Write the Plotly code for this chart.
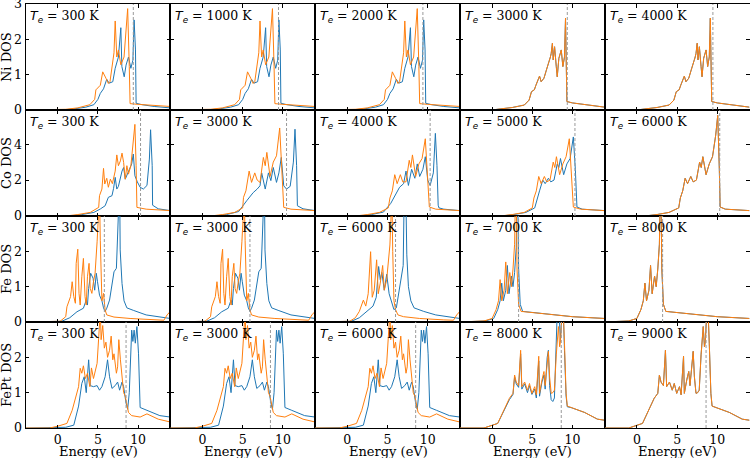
import plotly.graph_objects as go

# ---------------- data (energies in eV, DOS values) ----------------
ROWS = ["Ni", "Co", "Fe", "FePt"]
TEMPS = {
    "Ni": [300, 1000, 2000, 3000, 4000],
    "Co": [300, 3000, 4000, 5000, 6000],
    "Fe": [300, 3000, 6000, 7000, 8000],
    "FePt": [300, 3000, 6000, 8000, 9000],
}
FERMI = {
    "Ni": [9.4, 9.45, 9.4, 9.35, 9.45],
    "Co": [10.3, 10.45, 10.3, 10.3, 10.3],
    "Fe": [5.8, 5.9, 6.0, 3.3, 3.2],
    "FePt": [8.5, 8.45, 8.5, 8.6, 8.6],
}
YRANGE = {"Ni": [0, 3.0005], "Co": [0, 5.9], "Fe": [0, 3], "FePt": [0, 3]}
YTICKS = {"Ni": [0, 1, 2, 3], "Co": [0, 2, 4], "Fe": [0, 1, 2], "FePt": [0, 1, 2]}
XTICKS = [0, 5, 10]

# Ni, low temperature (spin up = orange, spin down = blue)
NI_LOW_UP_E = [-4, 0.0, 1.0, 2.5, 4.0, 4.6, 4.75, 5.3, 5.6, 6.0, 6.3, 6.5, 6.85, 7.0, 7.15, 7.35, 7.55, 7.85, 8.25, 8.6, 8.7, 8.9, 9.0, 10, 12, 14]
NI_LOW_UP_D = [0, 0.0, 0.02, 0.06, 0.15, 0.3, 0.57, 0.7, 1.08, 0.9, 0.75, 0.8, 1.33, 1.62, 2.52, 1.5, 1.7, 1.28, 1.5, 2.53, 2.87, 1.23, 0.18, 0.16, 0.12, 0.1]
NI_LOW_DN_E = [-4, 0.5, 2.0, 3.5, 4.5, 5.0, 5.3, 5.7, 6.1, 6.4, 6.85, 7.15, 7.55, 7.85, 7.98, 8.27, 8.5, 8.8, 9.1, 9.35, 9.5, 9.67, 9.75, 10.5, 12, 14]
NI_LOW_DN_D = [0, 0.0, 0.03, 0.08, 0.15, 0.3, 0.47, 0.6, 0.87, 0.76, 0.8, 1.18, 1.5, 2.33, 1.23, 0.94, 1.27, 1.5, 1.18, 1.41, 2.55, 1.7, 0.19, 0.15, 0.1, 0.06]
# Ni, high temperature (both spins equal)
NI_HIGH_E = [-4, 0.0, 1.0, 2.5, 4.0, 4.6, 4.9, 5.25, 5.45, 5.9, 6.1, 6.45, 6.75, 7.05, 7.25, 7.35, 7.5, 7.6, 7.77, 7.98, 8.1, 8.3, 8.6, 8.8, 9.0, 9.13, 9.25, 9.3, 10, 12, 14]
NI_HIGH_D = [0, 0, 0.03, 0.07, 0.14, 0.28, 0.52, 0.57, 0.7, 0.96, 0.8, 0.9, 1.13, 1.33, 1.5, 1.6, 1.89, 1.42, 1.79, 1.23, 0.94, 1.46, 1.7, 1.23, 1.5, 2.6, 1.2, 0.24, 0.2, 0.13, 0.08]

# Co
CO_300_UP_E = [-4, 1.0, 2.5, 4.05, 5.1, 5.2, 5.5, 5.7, 5.85, 6.1, 6.3, 6.55, 6.8, 7.15, 7.35, 7.55, 7.8, 8.0, 8.2, 8.4, 8.6, 8.8, 9.1, 9.4, 9.6, 9.75, 9.85, 11, 14]
CO_300_UP_D = [0, 0.0, 0.08, 0.2, 0.48, 1.13, 1.5, 2.65, 1.78, 2.1, 1.6, 2.05, 1.8, 2.5, 3.4, 2.8, 3.07, 3.5, 2.98, 2.05, 2.8, 2.33, 2.8, 4.28, 5.1, 2.8, 0.48, 0.38, 0.3]
CO_300_DN_E = [-4, 1.5, 3.0, 4.5, 5.3, 5.9, 6.3, 6.75, 6.95, 7.15, 7.35, 7.55, 8.0, 8.2, 8.4, 8.8, 9.2, 9.4, 9.6, 9.9, 10.25, 10.65, 11.1, 11.4, 11.55, 11.75, 11.8, 12.5, 14]
CO_300_DN_D = [0, 0.0, 0.08, 0.2, 0.39, 0.57, 1.04, 1.13, 1.54, 2.15, 1.5, 1.65, 2.5, 2.7, 2.05, 2.5, 2.9, 3.45, 2.24, 1.9, 1.6, 1.5, 1.7, 3.17, 4.8, 2.8, 0.6, 0.4, 0.3]
CO_3000_UP_E = [-4, 1.0, 2.5, 4.0, 5.0, 5.1, 5.4, 5.8, 6.1, 6.5, 6.8, 7.15, 7.57, 7.8, 8.0, 8.4, 8.8, 9.2, 9.6, 9.85, 10.1, 11, 14]
CO_3000_UP_D = [0, 0, 0.08, 0.2, 0.45, 1.04, 1.4, 2.5, 1.87, 2.4, 2.0, 1.87, 3.26, 2.8, 3.54, 2.2, 3.0, 3.35, 4.9, 2.8, 0.48, 0.38, 0.3]
CO_3000_DN_E = [-4, 1.5, 3.0, 4.5, 5.5, 6.3, 6.8, 7.15, 7.36, 7.8, 8.2, 8.5, 8.8, 9.2, 9.5, 9.8, 10.1, 10.45, 10.9, 11.3, 11.5, 11.7, 11.8, 12.5, 14]
CO_3000_DN_D = [0, 0, 0.08, 0.25, 0.85, 1.3, 1.5, 1.68, 2.4, 1.5, 2.4, 1.97, 2.7, 1.87, 2.4, 3.26, 1.68, 1.5, 1.65, 3.0, 4.83, 2.8, 0.57, 0.4, 0.3]
CO_4000_UP_E = [-4, 1, 2.5, 4, 5.1, 5.3, 5.6, 5.9, 6.2, 6.6, 6.9, 7.3, 7.7, 7.9, 8.1, 8.5, 8.9, 9.3, 9.7, 9.95, 10.2, 11, 14]
CO_4000_UP_D = [0, 0, 0.08, 0.2, 0.45, 1.0, 1.4, 2.3, 1.8, 2.3, 1.9, 1.9, 3.1, 2.7, 3.4, 2.2, 2.9, 3.2, 4.3, 2.6, 0.5, 0.38, 0.3]
CO_4000_DN_E = [-4, 1.5, 3, 4.5, 5.4, 6.0, 6.5, 7.0, 7.3, 7.6, 8.0, 8.4, 8.7, 9.0, 9.4, 9.7, 10.0, 10.3, 10.7, 10.95, 11.15, 11.3, 11.4, 12, 14]
CO_4000_DN_D = [0, 0, 0.08, 0.22, 0.7, 1.2, 1.6, 1.8, 2.5, 1.7, 2.6, 2.1, 2.9, 2.2, 2.6, 3.3, 2.0, 1.7, 2.4, 4.6, 2.8, 0.6, 0.45, 0.38, 0.3]
CO_5000_UP_E = [-4, 1, 2.5, 4, 5.0, 5.2, 5.5, 5.8, 6.1, 6.5, 6.8, 7.2, 7.6, 7.8, 8.0, 8.4, 8.8, 9.2, 9.6, 9.85, 10.1, 11, 14]
CO_5000_UP_D = [0, 0, 0.08, 0.2, 0.45, 1.0, 1.4, 2.2, 1.8, 2.2, 1.9, 2.0, 3.0, 2.7, 3.3, 2.3, 2.9, 3.3, 4.3, 2.6, 0.5, 0.38, 0.3]
CO_5000_DN_E = [-4, 1.2, 2.7, 4.2, 5.3, 5.6, 5.9, 6.3, 6.6, 7.0, 7.3, 7.7, 8.1, 8.3, 8.5, 8.9, 9.3, 9.7, 10.1, 10.35, 10.55, 11.2, 14]
CO_5000_DN_D = [0, 0, 0.08, 0.2, 0.45, 1.0, 1.4, 2.0, 1.8, 2.1, 1.9, 2.0, 2.9, 2.7, 3.2, 2.3, 2.9, 3.2, 4.4, 2.6, 0.5, 0.38, 0.3]
CO_HIGH_E = [-4, 1, 2.5, 4, 5.2, 5.4, 5.7, 6.0, 6.3, 6.7, 7.0, 7.4, 7.8, 8.0, 8.2, 8.6, 9.0, 9.4, 9.8, 10.05, 10.25, 10.35, 11, 14]
CO_HIGH_D = [0, 0, 0.08, 0.2, 0.45, 1.0, 1.4, 2.1, 1.8, 2.2, 1.9, 2.0, 3.0, 2.7, 3.3, 2.3, 2.9, 3.3, 4.5, 5.6, 2.6, 0.5, 0.38, 0.3]

# Fe
FE_LOW_UP_E = [-4, 0.3, 1.0, 1.15, 1.6, 1.8, 2.0, 2.2, 2.3, 2.5, 2.65, 2.8, 3.0, 3.2, 3.4, 3.55, 3.7, 3.9, 4.05, 4.25, 4.45, 4.65, 4.9, 5.0, 5.1, 5.2, 5.3, 5.4, 5.5, 5.7, 5.9, 6.1, 7, 9, 12, 13.2, 13.6, 14]
FE_LOW_UP_D = [0, 0.02, 0.15, 0.43, 0.72, 1.14, 0.72, 0.53, 1.66, 2.06, 0.81, 0.48, 1.28, 1.8, 0.72, 0.48, 1.28, 1.66, 0.95, 0.81, 1.14, 1.38, 2.27, 2.8, 3.6, 3.6, 2.3, 0.9, 0.6, 0.81, 0.34, 0.2, 0.14, 0.1, 0.06, 0.05, 0.2, 0.3]
FE_LOW_DN_E = [-4, 0.5, 1.5, 2.4, 3.2, 3.55, 3.7, 3.85, 4.1, 4.4, 4.6, 4.8, 4.95, 5.2, 5.5, 5.7, 5.9, 6.1, 6.45, 6.75, 7.0, 7.3, 7.45, 7.55, 7.7, 7.77, 8.0, 8.25, 8.6, 9.4, 11, 14]
FE_LOW_DN_D = [0, 0.02, 0.12, 0.29, 0.39, 0.62, 0.48, 0.95, 1.38, 1.24, 0.9, 1.38, 1.14, 0.76, 0.6, 0.4, 0.3, 0.39, 0.62, 1.09, 1.42, 1.52, 2.13, 4.0, 4.0, 2.04, 1.09, 0.6, 0.4, 0.33, 0.2, 0.1]
FE_6000_UP_E = [-4, 0.3, 1.0, 1.5, 2.0, 2.3, 2.6, 2.9, 3.1, 3.35, 3.65, 3.85, 4.1, 4.4, 4.6, 4.9, 5.3, 5.45, 5.55, 5.65, 5.8, 6.0, 6.3, 7, 9, 12, 13.2, 13.6, 14]
FE_6000_UP_D = [0, 0.02, 0.12, 0.3, 0.62, 0.45, 0.8, 1.99, 0.7, 0.9, 1.76, 0.8, 1.1, 1.6, 0.9, 1.2, 2.18, 3.6, 3.6, 2.0, 0.6, 0.35, 0.2, 0.15, 0.1, 0.06, 0.05, 0.2, 0.3]
FE_6000_DN_E = [-4, 0.5, 1.5, 2.5, 3.2, 3.6, 3.9, 4.1, 4.3, 4.6, 4.9, 5.2, 5.5, 5.8, 6.1, 6.4, 6.7, 6.95, 7.1, 7.25, 7.4, 7.6, 7.9, 8.3, 9.5, 11, 14]
FE_6000_DN_D = [0, 0.02, 0.12, 0.3, 0.45, 0.7, 1.57, 1.2, 1.4, 0.9, 1.35, 0.8, 0.55, 0.35, 0.4, 0.8, 1.3, 1.6, 4.0, 4.0, 1.9, 1.0, 0.6, 0.4, 0.3, 0.2, 0.1]
FE_7000_UP_E = [-4, -1.0, 0.0, 0.5, 0.8, 1.0, 1.2, 1.5, 1.7, 1.9, 2.2, 2.4, 2.6, 2.8, 2.9, 3.0, 3.1, 3.3, 3.6, 6, 10, 14]
FE_7000_UP_D = [0, 0.03, 0.1, 0.35, 0.6, 1.2, 0.6, 0.9, 1.7, 0.8, 1.4, 1.0, 1.5, 2.2, 3.6, 3.6, 1.5, 0.5, 0.3, 0.25, 0.15, 0.1]
FE_7000_DN_E = [-4, -0.8, 0.2, 0.7, 1.0, 1.2, 1.4, 1.7, 1.9, 2.1, 2.4, 2.6, 2.8, 3.0, 3.1, 3.2, 3.3, 3.5, 3.8, 6, 10, 14]
FE_7000_DN_D = [0, 0.03, 0.1, 0.35, 0.6, 1.1, 0.6, 0.9, 1.6, 0.8, 1.3, 1.0, 1.4, 2.1, 3.6, 3.6, 1.5, 0.5, 0.3, 0.25, 0.15, 0.1]
FE_8000_E = [-4, -1.0, 0.0, 0.5, 0.8, 1.0, 1.2, 1.5, 1.7, 1.9, 2.2, 2.4, 2.6, 2.8, 2.9, 3.0, 3.1, 3.3, 3.6, 6, 10, 14]
FE_8000_D = [0, 0.03, 0.1, 0.35, 0.6, 1.1, 0.6, 0.9, 1.6, 0.8, 1.3, 1.0, 1.5, 2.2, 3.6, 3.6, 1.5, 0.5, 0.3, 0.25, 0.15, 0.1]

# FePt
FEPT_LOW_UP_E = [-4, -1.0, 0.0, 1.15, 1.8, 2.2, 2.6, 2.8, 3.0, 3.2, 3.45, 3.7, 4.0, 4.2, 4.45, 4.9, 5.1, 5.3, 5.4, 5.6, 5.8, 6.0, 6.2, 6.45, 6.65, 6.85, 7.0, 7.3, 7.45, 7.6, 7.8, 8.0, 8.2, 8.4, 8.6, 8.8, 9.2, 10.25, 11.1, 12.5, 14]
FEPT_LOW_UP_D = [0, 0.0, 0.05, 0.13, 0.5, 0.84, 1.17, 1.69, 1.55, 1.76, 1.4, 1.55, 1.17, 1.7, 1.4, 1.83, 2.68, 3.3, 2.5, 2.9, 2.26, 2.43, 2.0, 2.2, 2.6, 1.93, 2.1, 1.55, 1.73, 2.5, 1.93, 1.36, 1.0, 0.9, 0.62, 0.44, 0.35, 0.31, 0.4, 0.25, 0.17]
FEPT_LOW_DN_E = [-4, 0.0, 1.0, 2.0, 2.6, 3.0, 3.3, 3.55, 3.85, 4.05, 4.45, 4.9, 5.2, 5.5, 5.9, 6.2, 6.45, 6.75, 7.15, 7.45, 7.7, 8.0, 8.2, 8.5, 8.7, 8.9, 9.1, 9.2, 9.35, 9.5, 9.65, 9.85, 10.05, 10.15, 10.25, 11.1, 12.7, 14]
FEPT_LOW_DN_D = [0, 0.0, 0.02, 0.08, 0.62, 1.26, 1.45, 1.0, 1.93, 1.2, 1.17, 1.2, 1.07, 1.17, 1.45, 1.93, 1.45, 1.12, 1.2, 1.3, 1.07, 1.3, 1.17, 0.7, 0.53, 1.0, 2.12, 2.77, 2.45, 2.77, 2.4, 2.87, 2.1, 0.9, 0.58, 0.5, 0.35, 0.31]
FEPT_HIGH_E = [-4, -1.0, 0.7, 2.15, 2.6, 2.8, 3.0, 3.3, 3.55, 3.7, 4.05, 4.4, 4.65, 4.95, 5.3, 5.5, 5.8, 5.9, 6.2, 6.45, 6.6, 6.85, 7.0, 7.15, 7.35, 7.55, 7.75, 7.98, 8.1, 8.25, 8.4, 8.5, 8.7, 8.85, 9.0, 9.2, 9.35, 9.8, 11.5, 13.1, 14]
FEPT_HIGH_D = [0, 0.0, 0.13, 0.84, 0.98, 1.5, 1.3, 1.2, 2.2, 1.17, 1.3, 1.07, 1.26, 0.98, 1.17, 0.94, 2.03, 0.98, 1.36, 1.6, 1.2, 1.93, 2.17, 1.45, 0.98, 1.0, 1.07, 2.07, 2.5, 2.87, 2.3, 2.43, 3.3, 3.3, 2.4, 0.98, 0.62, 0.58, 0.44, 0.25, 0.22]
FEPT_8000_DN_E = [-4, -1.0, 0.7, 2.15, 2.6, 2.8, 3.0, 3.3, 3.55, 3.7, 4.05, 4.4, 4.65, 4.95, 5.3, 5.5, 5.8, 5.9, 6.2, 6.45, 6.6, 6.85, 7.0, 7.15, 7.35, 7.55, 7.75, 7.98, 8.1, 8.3, 8.5, 8.7, 8.85, 9.0, 9.2, 9.35, 9.8, 11.5, 13.1, 14]
FEPT_8000_DN_D = [0, 0.0, 0.13, 0.8, 0.95, 1.45, 1.25, 1.15, 2.1, 1.1, 1.25, 1.0, 1.2, 0.95, 1.1, 0.85, 1.9, 0.9, 1.3, 1.5, 1.1, 2.0, 2.2, 1.2, 0.8, 0.75, 0.85, 2.2, 3.3, 3.3, 2.5, 3.3, 3.3, 2.2, 0.9, 0.6, 0.58, 0.44, 0.25, 0.22]

CURVES = {
    "Ni": [
        ((NI_LOW_DN_E, NI_LOW_DN_D), (NI_LOW_UP_E, NI_LOW_UP_D)),
        ((NI_LOW_DN_E, NI_LOW_DN_D), (NI_LOW_UP_E, NI_LOW_UP_D)),
        ((NI_LOW_DN_E, NI_LOW_DN_D), (NI_LOW_UP_E, NI_LOW_UP_D)),
        ((NI_HIGH_E, NI_HIGH_D), (NI_HIGH_E, NI_HIGH_D)),
        ((NI_HIGH_E, NI_HIGH_D), (NI_HIGH_E, NI_HIGH_D)),
    ],
    "Co": [
        ((CO_300_DN_E, CO_300_DN_D), (CO_300_UP_E, CO_300_UP_D)),
        ((CO_3000_DN_E, CO_3000_DN_D), (CO_3000_UP_E, CO_3000_UP_D)),
        ((CO_4000_DN_E, CO_4000_DN_D), (CO_4000_UP_E, CO_4000_UP_D)),
        ((CO_5000_DN_E, CO_5000_DN_D), (CO_5000_UP_E, CO_5000_UP_D)),
        ((CO_HIGH_E, CO_HIGH_D), (CO_HIGH_E, CO_HIGH_D)),
    ],
    "Fe": [
        ((FE_LOW_DN_E, FE_LOW_DN_D), (FE_LOW_UP_E, FE_LOW_UP_D)),
        ((FE_LOW_DN_E, FE_LOW_DN_D), (FE_LOW_UP_E, FE_LOW_UP_D)),
        ((FE_6000_DN_E, FE_6000_DN_D), (FE_6000_UP_E, FE_6000_UP_D)),
        ((FE_7000_DN_E, FE_7000_DN_D), (FE_7000_UP_E, FE_7000_UP_D)),
        ((FE_8000_E, FE_8000_D), (FE_8000_E, FE_8000_D)),
    ],
    "FePt": [
        ((FEPT_LOW_DN_E, FEPT_LOW_DN_D), (FEPT_LOW_UP_E, FEPT_LOW_UP_D)),
        ((FEPT_LOW_DN_E, FEPT_LOW_DN_D), (FEPT_LOW_UP_E, FEPT_LOW_UP_D)),
        ((FEPT_LOW_DN_E, FEPT_LOW_DN_D), (FEPT_LOW_UP_E, FEPT_LOW_UP_D)),
        ((FEPT_8000_DN_E, FEPT_8000_DN_D), (FEPT_HIGH_E, FEPT_HIGH_D)),
        ((FEPT_HIGH_E, FEPT_HIGH_D), (FEPT_HIGH_E, FEPT_HIGH_D)),
    ],
}

# ---------------- layout geometry (pixels) ----------------
W, H = 750, 458
LEFT, RIGHT = 25.5, 749.5
TOP, BOTTOM = 4, 428
NCOL, NROW = 5, 4
CW = (RIGHT - LEFT) / NCOL
RH = (BOTTOM - TOP) / NROW
BLUE, ORANGE = "#1f77b4", "#ff7f0e"
SERIF = "DejaVu Serif"
TICK_FS = 12.5
LABEL_FS = 13

fig = go.Figure()
layout = dict(
    width=W, height=H, margin=dict(l=0, r=0, t=0, b=0),
    paper_bgcolor="white", plot_bgcolor="white", showlegend=False,
    font=dict(family=SERIF, size=12, color="black"),
)
shapes, annotations = [], []

for r, mat in enumerate(ROWS):
    for c in range(NCOL):
        n = r * NCOL + c + 1
        xs = "" if n == 1 else str(n)
        x0 = (LEFT + c * CW) / W
        x1 = (LEFT + (c + 1) * CW) / W
        y1 = 1 - (TOP + r * RH) / H
        y0 = 1 - (TOP + (r + 1) * RH) / H
        layout["xaxis" + xs] = dict(
            domain=[x0, x1], range=[-4, 14], anchor="y" + xs,
            tickvals=XTICKS, ticks="inside", ticklen=3.5, tickwidth=1, tickcolor="black",
            showline=True, linecolor="black", linewidth=1, mirror="allticks",
            showgrid=False, zeroline=False, showticklabels=(r == NROW - 1),
            tickfont=dict(family=SERIF, size=TICK_FS), automargin=False,
            ticklabeloverflow="allow",
        )
        layout["yaxis" + xs] = dict(
            domain=[y0, y1], range=YRANGE[mat], anchor="x" + xs,
            tickvals=YTICKS[mat], ticks="inside", ticklen=3.5, tickwidth=1, tickcolor="black",
            showline=True, linecolor="black", linewidth=1, mirror="allticks",
            showgrid=False, zeroline=False, showticklabels=(c == 0),
            tickfont=dict(family=SERIF, size=TICK_FS), automargin=False,
            ticklabeloverflow="allow",
        )
        (dn_e, dn_d), (up_e, up_d) = CURVES[mat][c]
        fig.add_trace(go.Scatter(x=dn_e, y=dn_d, mode="lines", line=dict(color=BLUE, width=1),
                                 xaxis="x" + xs, yaxis="y" + xs, hoverinfo="skip"))
        fig.add_trace(go.Scatter(x=up_e, y=up_d, mode="lines", line=dict(color=ORANGE, width=1),
                                 xaxis="x" + xs, yaxis="y" + xs, hoverinfo="skip"))
        ef = FERMI[mat][c]
        shapes.append(dict(type="line", xref="x" + xs, yref="y" + xs + " domain",
                           x0=ef, x1=ef, y0=0, y1=1,
                           line=dict(color="#999999", width=1, dash="3px,2px")))
        annotations.append(dict(
            xref="x" + xs + " domain", yref="y" + xs + " domain", x=0.02, y=0.985,
            xanchor="left", yanchor="top", showarrow=False,
            text='<span style="font-family:DejaVu Sans"><i>T</i><sub><i>e</i></sub></span> = %d K' % TEMPS[mat][c],
            font=dict(family=SERIF, size=12.5, color="black"),
        ))
        if r == NROW - 1:
            annotations.append(dict(
                xref="paper", yref="paper", x=(x0 + x1) / 2 + 0.6 / W, y=1 - 451.5 / H,
                xanchor="center", yanchor="middle", showarrow=False,
                text="Energy (eV)", font=dict(family=SERIF, size=LABEL_FS, color="black"),
            ))
    annotations.append(dict(
        xref="paper", yref="paper", x=6 / W, y=1 - (TOP + (r + 0.5) * RH) / H,
        xanchor="center", yanchor="middle", showarrow=False, textangle=-90,
        text="%s DOS" % mat, font=dict(family=SERIF, size=LABEL_FS, color="black"),
    ))

layout["shapes"] = shapes
layout["annotations"] = annotations
fig.update_layout(**layout)
fig.write_html("out.html")
